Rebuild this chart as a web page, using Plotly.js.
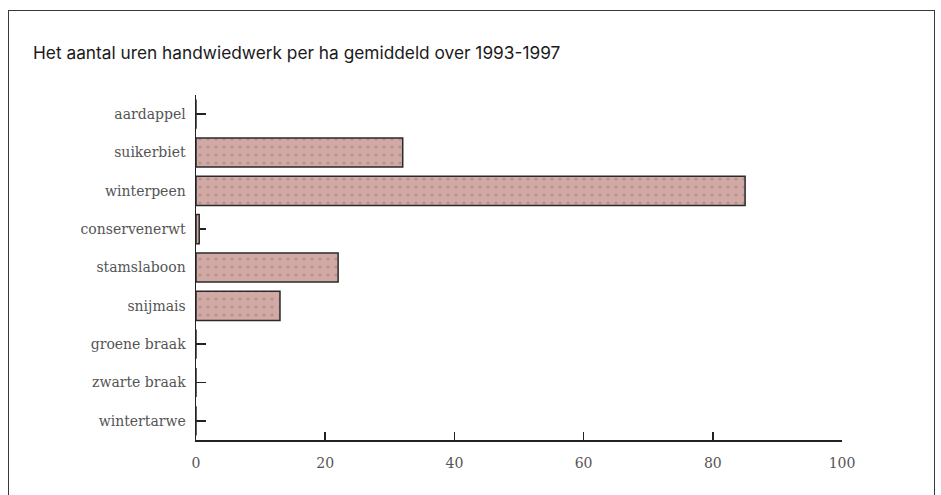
<!DOCTYPE html>
<html>
<head>
<meta charset="utf-8">
<script src="https://cdn.plot.ly/plotly-3.0.1.min.js"></script>
<style>
html,body{margin:0;padding:0;background:#fff;}
#wrap{position:relative;width:941px;height:495px;overflow:hidden;}
#frame{position:absolute;left:8px;top:10px;width:927px;height:500px;border:1.5px solid #3a3a3a;box-sizing:border-box;pointer-events:none;}
#chart{position:absolute;left:0;top:0;width:941px;height:495px;}
</style>
</head>
<body>
<div id="wrap">
<div id="chart"></div>
<div id="frame"></div>
</div>
<script>
const categories = ["aardappel","suikerbiet","winterpeen","conservenerwt","stamslaboon","snijmais","groene braak","zwarte braak","wintertarwe"];
const hours = [0, 32, 85, 0.5, 22, 13, 0, 0, 0];
const xTicks = [0, 20, 40, 60, 80, 100];
const chartTitle = "Het aantal uren handwiedwerk per ha gemiddeld over 1993-1997";

const trace = {
  type: "bar",
  orientation: "h",
  y: categories,
  x: hours,
  marker: {
    color: "#d0a7a2",
    line: {color: "#2a2a2a", width: 1.5},
    pattern: {shape: ".", fgcolor: "#b8908b", bgcolor: "#d2aaa5", size: 8, solidity: 0.12}
  },
  hoverinfo: "x+y"
};

const layout = {
  width: 941, height: 495,
  paper_bgcolor: "#fff", plot_bgcolor: "#fff",
  margin: {l: 196, r: 99, t: 95, b: 55},
  bargap: 0.24,
  showlegend: false,
  title: {
    text: chartTitle,
    font: {family: "Inter, 'Open Sans', sans-serif", size: 17.3, color: "#1a1a1a"},
    xref: "container", yref: "container",
    x: 33/941, xanchor: "left",
    y: 1 - 53/495, yanchor: "middle"
  },
  xaxis: {
    range: [0, 100],
    tickvals: xTicks,
    ticktext: xTicks.map(String),
    ticks: "inside", ticklen: 8, tickwidth: 1.5, tickcolor: "#222",
    showline: true, linecolor: "#222", linewidth: 1.5,
    showgrid: false, zeroline: false,
    ticklabelstandoff: 10,
    layer: "below traces",
    tickfont: {family: "'DejaVu Serif', serif", size: 14, color: "#555"},
    fixedrange: true
  },
  yaxis: {
    type: "category",
    autorange: "reversed",
    ticks: "inside", ticklen: 10, tickwidth: 1.5, tickcolor: "#222",
    showline: true, linecolor: "#222", linewidth: 1.5,
    showgrid: false, zeroline: false,
    ticklabelstandoff: 6,
    layer: "below traces",
    tickfont: {family: "'DejaVu Serif', serif", size: 14, color: "#555"},
    fixedrange: true
  }
};

Plotly.newPlot("chart", [trace], layout, {displayModeBar: false, staticPlot: true});
</script>
</body>
</html>
